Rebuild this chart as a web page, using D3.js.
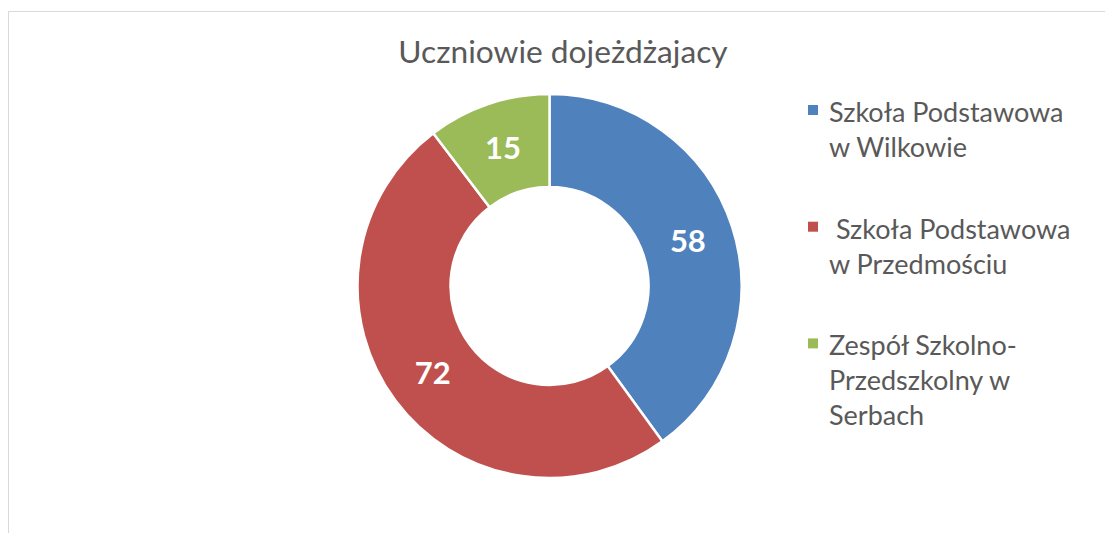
<!DOCTYPE html>
<html>
<head>
<meta charset="utf-8">
<script src="https://cdn.jsdelivr.net/npm/d3@7"></script>
<style>
  html, body { margin: 0; padding: 0; background: #fff; }
  svg { display: block; }
</style>
</head>
<body>
<svg id="chart"></svg>
<script>
// Chart data
const title = "Uczniowie dojeżdżajacy";
const schools = [
  ["Szkoła Podstawowa", "w Wilkowie"],
  [" Szkoła Podstawowa", "w Przedmościu"],
  ["Zespół Szkolno-", "Przedszkolny w", "Serbach"]
];
const students = [58, 72, 15];
const colors = ["#4F81BD", "#C0504D", "#9BBB59"];

// SVG size and donut geometry
const width = 1105;
const height = 533;
const cx = 549.5;
const cy = 286;
const outerR = 192;
const innerR = 99;
const font = "Lato, 'Open Sans', sans-serif";

const svg = d3.select("#chart")
    .attr("width", width)
    .attr("height", height);

// chart area border (only left and top visible)
svg.append("rect")
    .attr("x", 8.5)
    .attr("y", 11.5)
    .attr("width", width + 20)
    .attr("height", height + 20)
    .attr("fill", "#fff")
    .attr("stroke", "#D9D9D9")
    .attr("stroke-width", 1);

// Title
svg.append("text")
    .text(title)
    .attr("x", 563)
    .attr("y", 63)
    .style("text-anchor", "middle")
    .style("font-family", font)
    .style("font-size", "31.7px")
    .style("fill", "#595959");

const color = d3.scaleOrdinal()
    .domain(d3.range(students.length))
    .range(colors);

const pie = d3.pie()
    .value(d => d)
    .sort(null);

const arc = d3.arc()
    .innerRadius(innerR)
    .outerRadius(outerR);

const arcs = pie(students);

const donut = svg.append("g")
    .attr("transform", `translate(${cx},${cy})`);

donut.selectAll("path")
  .data(arcs)
  .enter()
  .append("path")
    .attr("d", arc)
    .attr("fill", (d, i) => color(i))
    .attr("stroke", "#fff")
    .attr("stroke-width", 2.5);

// Value labels at slice centroids
donut.selectAll("text")
  .data(arcs)
  .enter()
  .append("text")
    .text(d => d.data)
    .attr("x", d => arc.centroid(d)[0])
    .attr("y", d => arc.centroid(d)[1])
    .attr("dy", "0.35em")
    .style("text-anchor", "middle")
    .style("font-family", font)
    .style("font-weight", "bold")
    .style("font-size", "31px")
    .style("fill", "#fff");

// Legend
const legendX = 808;
const legendTop = 122;
const entryStep = 116.7;
const lineStep = 35;

const legend = svg.selectAll(".legend")
  .data(schools)
  .enter()
  .append("g")
    .attr("class", "legend")
    .attr("transform", (d, i) => `translate(${legendX},${legendTop + i * entryStep})`);

legend.append("rect")
    .attr("x", 0)
    .attr("y", -17)
    .attr("width", 10)
    .attr("height", 10)
    .attr("fill", (d, i) => color(i));

legend.append("text")
    .attr("x", 21)
    .attr("y", 0)
    .style("font-family", font)
    .style("font-size", "27px")
    .style("fill", "#595959")
    .style("white-space", "pre")
  .selectAll("tspan")
  .data(d => d)
  .enter()
  .append("tspan")
    .attr("x", 21)
    .attr("dy", (d, i) => i === 0 ? 0 : lineStep)
    .text(d => d);
</script>
</body>
</html>
